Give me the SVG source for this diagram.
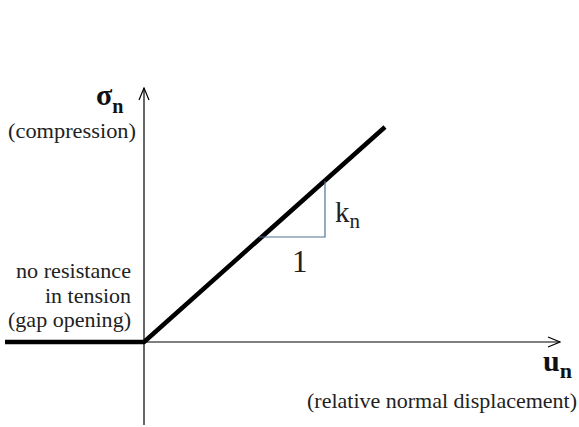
<svg xmlns="http://www.w3.org/2000/svg" width="579" height="427" viewBox="0 0 579 427">
<style>
.t{font-family:"Liberation Serif","DejaVu Serif",serif;fill:#222}
.b{font-family:"Liberation Serif","DejaVu Serif",serif;font-weight:bold;fill:#111}
.ax{stroke:#000;stroke-width:1.2;fill:none}
.curve{stroke:#000;stroke-width:4.5;fill:none;stroke-linejoin:round}
.tri{stroke:#4f7396;stroke-width:1.2;fill:none}
</style>
<defs>
<marker id="arr" viewBox="0 0 14 12" refX="13" refY="6" markerWidth="14" markerHeight="12" markerUnits="userSpaceOnUse" orient="auto">
<path d="M1,1 L13,6 L1,11" fill="none" stroke="#000" stroke-width="1.2"/>
</marker>
</defs>
<g id="connectors">
<line class="ax" x1="144" y1="425" x2="144" y2="88" marker-end="url(#arr)"/>
<line class="ax" x1="144" y1="342" x2="560" y2="342" marker-end="url(#arr)"/>
<polyline class="curve" points="5,342 144,342 385,127"/>
<polyline class="tri" points="259,237 325,237 325,181"/>
</g>
<g id="sigma-label">
<text class="b" x="96" y="105" font-size="30">σ<tspan font-size="20" dy="8">n</tspan></text>
<text class="t" x="136" y="138" font-size="21" text-anchor="end" textLength="128" lengthAdjust="spacingAndGlyphs">(compression)</text>
</g>
<g id="tension-label">
<text class="t" x="131" y="278" font-size="21" text-anchor="end" textLength="115" lengthAdjust="spacingAndGlyphs">no resistance</text>
<text class="t" x="131" y="303" font-size="21" text-anchor="end" textLength="86" lengthAdjust="spacingAndGlyphs">in tension</text>
<text class="t" x="131" y="327" font-size="21" text-anchor="end" textLength="123" lengthAdjust="spacingAndGlyphs">(gap opening)</text>
</g>
<g id="slope-label">
<text class="t" x="335" y="222" font-size="29">k<tspan font-size="21" dy="6">n</tspan></text>
<text class="t" x="292" y="272" font-size="31">1</text>
</g>
<g id="u-label">
<text class="b" x="543" y="371" font-size="30">u<tspan font-size="22" dy="7">n</tspan></text>
<text class="t" x="577" y="408" font-size="21" text-anchor="end" textLength="270" lengthAdjust="spacingAndGlyphs">(relative normal displacement)</text>
</g>
</svg>
